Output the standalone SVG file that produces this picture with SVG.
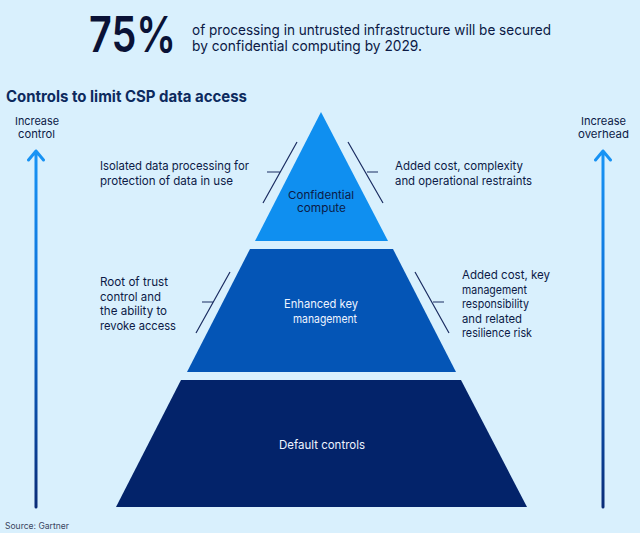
<svg xmlns="http://www.w3.org/2000/svg" width="640" height="533" viewBox="0 0 640 533">
<defs>
<linearGradient id="arrowGrad" gradientUnits="userSpaceOnUse" x1="0" y1="150" x2="0" y2="508">
<stop offset="0" stop-color="#1894f5"/>
<stop offset="0.45" stop-color="#0d6fd6"/>
<stop offset="1" stop-color="#0a2c78"/>
</linearGradient>
<style>
text{font-family:Inter,"Liberation Sans",sans-serif;}
.t{font-size:12px;fill:#0c1a46;}
.s{font-size:11px;fill:#0c1a46;}
.w{font-size:12px;fill:#eef4ff;}
.sl{stroke:#1b2d62;stroke-width:1.2;fill:none;}
.ar{stroke:url(#arrowGrad);stroke-width:3;fill:none;stroke-linecap:round;stroke-linejoin:round;}
</style>
</defs>
<rect x="0" y="0" width="640" height="533" fill="#d9f0fd"/>

<g id="header">
<text x="89" y="52" font-size="50" font-weight="600" fill="#0a1236" textLength="87" lengthAdjust="spacingAndGlyphs">75%</text>
<text x="192" y="35" font-size="14.5" fill="#0c1a46" textLength="359" lengthAdjust="spacingAndGlyphs">of processing in untrusted infrastructure will be secured</text>
<text x="192" y="51" font-size="14.5" fill="#0c1a46" textLength="230" lengthAdjust="spacingAndGlyphs">by confidential computing by 2029.</text>
<text x="6" y="102" font-size="15.5" font-weight="700" fill="#0d2a5e" textLength="241" lengthAdjust="spacingAndGlyphs">Controls to limit CSP data access</text>
</g>

<g id="connectors">
<path class="ar" d="M36 507 V151 M28.5 160 L36 151 L43.5 160"/>
<path class="ar" d="M603 507 V151 M595.5 160 L603 151 L610.5 160"/>
<path class="sl" d="M297 142 L263 203 M267 172 H280"/>
<path class="sl" d="M348 142 L383 203 M367 172 H378"/>
<path class="sl" d="M230 272 L196 333 M202 302 H213"/>
<path class="sl" d="M415 272 L449 333 M433 302 H444"/>
</g>

<g id="label-control">
<text class="s" x="15" y="124.5" textLength="44" lengthAdjust="spacingAndGlyphs">Increase</text>
<text class="s" x="18" y="138" textLength="37" lengthAdjust="spacingAndGlyphs">control</text>
</g>
<g id="label-overhead">
<text class="s" x="581" y="124.5" textLength="45" lengthAdjust="spacingAndGlyphs">Increase</text>
<text class="s" x="578" y="138" textLength="51" lengthAdjust="spacingAndGlyphs">overhead</text>
</g>

<g id="confidential-compute">
<polygon points="321,112 388,241 255,241" fill="#0f8ff0"/>
<text class="s" x="288" y="198.5" textLength="66" lengthAdjust="spacingAndGlyphs">Confidential</text>
<text class="s" x="297" y="212" textLength="49" lengthAdjust="spacingAndGlyphs">compute</text>
</g>
<g id="confidential-left">
<text class="t" x="100" y="170" textLength="149" lengthAdjust="spacingAndGlyphs">Isolated data processing for</text>
<text class="t" x="100" y="184.5" textLength="133" lengthAdjust="spacingAndGlyphs">protection of data in use</text>
</g>
<g id="confidential-right">
<text class="t" x="395" y="170" textLength="128" lengthAdjust="spacingAndGlyphs">Added cost, complexity</text>
<text class="t" x="395" y="184.5" textLength="137" lengthAdjust="spacingAndGlyphs">and operational restraints</text>
</g>

<g id="enhanced-key-management">
<polygon points="250,249 393,249 456,372 187,372" fill="#0455b6"/>
<text class="w" x="284" y="308" textLength="74" lengthAdjust="spacingAndGlyphs">Enhanced key</text>
<text class="w" x="293" y="323" textLength="64" lengthAdjust="spacingAndGlyphs">management</text>
</g>
<g id="enhanced-left">
<text class="t" x="100" y="286" textLength="68" lengthAdjust="spacingAndGlyphs">Root of trust</text>
<text class="t" x="100" y="300.5" textLength="61" lengthAdjust="spacingAndGlyphs">control and</text>
<text class="t" x="100" y="315" textLength="67" lengthAdjust="spacingAndGlyphs">the ability to</text>
<text class="t" x="100" y="329.5" textLength="76" lengthAdjust="spacingAndGlyphs">revoke access</text>
</g>
<g id="enhanced-right">
<text class="t" x="462" y="279" textLength="88" lengthAdjust="spacingAndGlyphs">Added cost, key</text>
<text class="t" x="462" y="293.5" textLength="65" lengthAdjust="spacingAndGlyphs">management</text>
<text class="t" x="462" y="308" textLength="67" lengthAdjust="spacingAndGlyphs">responsibility</text>
<text class="t" x="462" y="322.5" textLength="60" lengthAdjust="spacingAndGlyphs">and related</text>
<text class="t" x="462" y="337" textLength="70" lengthAdjust="spacingAndGlyphs">resilience risk</text>
</g>

<g id="default-controls">
<polygon points="181,380 461,380 527,507 116,507" fill="#03236a"/>
<text class="w" x="279" y="449" textLength="86" lengthAdjust="spacingAndGlyphs">Default controls</text>
</g>

<g id="source">
<text x="5" y="529" font-size="8.5" fill="#3a4560" textLength="64" lengthAdjust="spacingAndGlyphs">Source: Gartner</text>
</g>
</svg>
